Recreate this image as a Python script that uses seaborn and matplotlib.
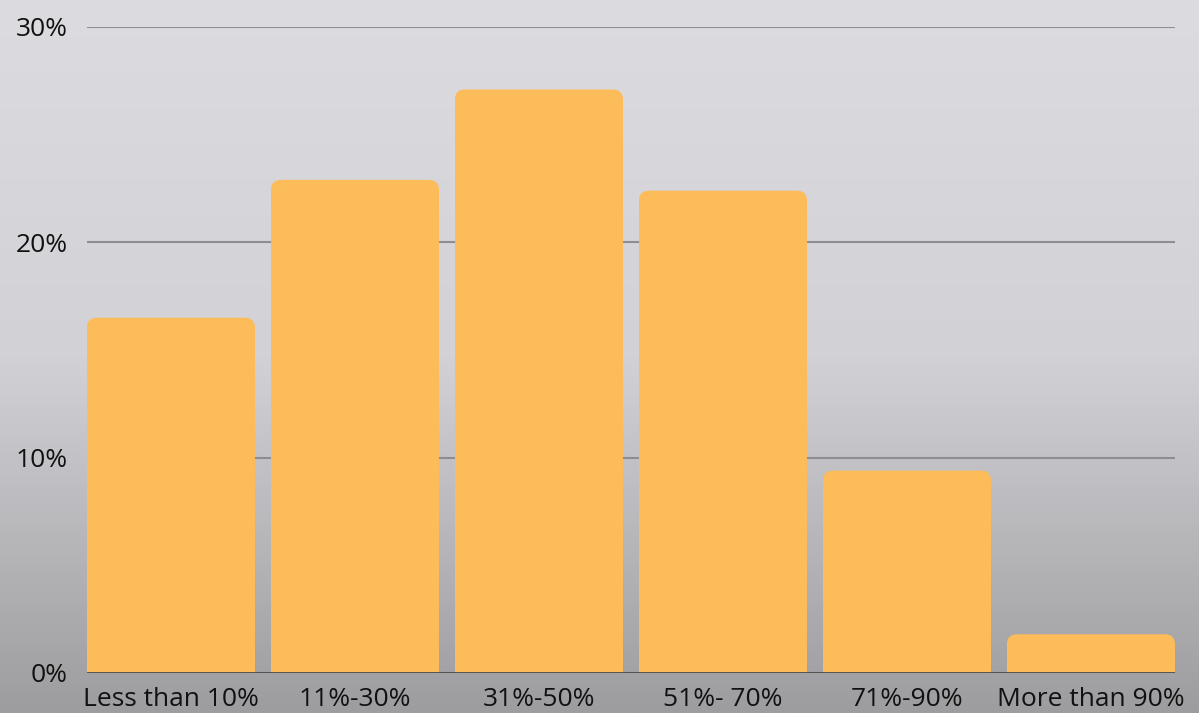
import numpy as np
import pandas as pd
import matplotlib
matplotlib.use("Agg")
import matplotlib.pyplot as plt
import seaborn as sns
from matplotlib.patches import FancyBboxPatch
from matplotlib.colors import LinearSegmentedColormap

# data
categories = ["Less than 10%", "11%-30%", "31%-50%", "51%- 70%", "71%-90%", "More than 90%"]
shares = [16.5, 22.9, 27.1, 22.4, 9.4, 1.8]
y_ticks = [0, 10, 20, 30]
y_labels = ["0%", "10%", "20%", "30%"]

df = pd.DataFrame({"range": categories, "share": shares})

sns.set_style("white")
plt.rcParams["font.family"] = ["Open Sans", "DejaVu Sans"]

fig = plt.figure(figsize=(11.99, 7.13), dpi=100)

# gradient background
bg = fig.add_axes([0, 0, 1, 1], zorder=-10)
grad = LinearSegmentedColormap.from_list("bg", ["#dcdbe0", "#d2d1d6", "#9d9d9f"])
bg.imshow(np.linspace(0, 1, 256).reshape(-1, 1), aspect="auto", cmap=grad, extent=[0, 1, 0, 1])
bg.axis("off")

ax = fig.add_axes([87 / 1199, 40 / 713, 1088 / 1199, 646 / 713])
ax.patch.set_alpha(0)

bar_w = 168 / 184
sns.barplot(data=df, x="range", y="share", color="#fdbc5a", width=bar_w,
            saturation=1, ax=ax, zorder=3)

ax.set_ylim(0, 30)
ax.set_xlim(-0.5 + (1 - bar_w) / 2, len(categories) - 0.5 - (1 - bar_w) / 2)

# swap the plain bars for ones with rounded tops
px_x = (ax.get_xlim()[1] - ax.get_xlim()[0]) / 1088
px_y = 30 / 646
r = 10 * px_x
for p in list(ax.patches):
    x0, w, h = p.get_x(), p.get_width(), p.get_height()
    p.remove()
    rb = FancyBboxPatch((x0, -1.0), w, h + 1.0,
                        boxstyle=f"round,pad=0,rounding_size={r}",
                        mutation_aspect=px_y / px_x,
                        fc="#fdbc5a", ec="none", zorder=3)
    ax.add_patch(rb)

ax.set_yticks(y_ticks)
ax.set_yticklabels(y_labels)
ax.yaxis.grid(True, color="#8e8e92", lw=1.5, zorder=0)
ax.axhline(0, color="#4a4a4c", lw=2, zorder=4)
for s in ax.spines.values():
    s.set_visible(False)

ax.tick_params(axis="y", length=0, pad=14, labelsize=19, labelcolor="#111111")
ax.tick_params(axis="x", length=0, pad=10, labelsize=19, labelcolor="#111111")
ax.set_xlabel("")
ax.set_ylabel("")

fig.savefig("out.png", dpi=100)
